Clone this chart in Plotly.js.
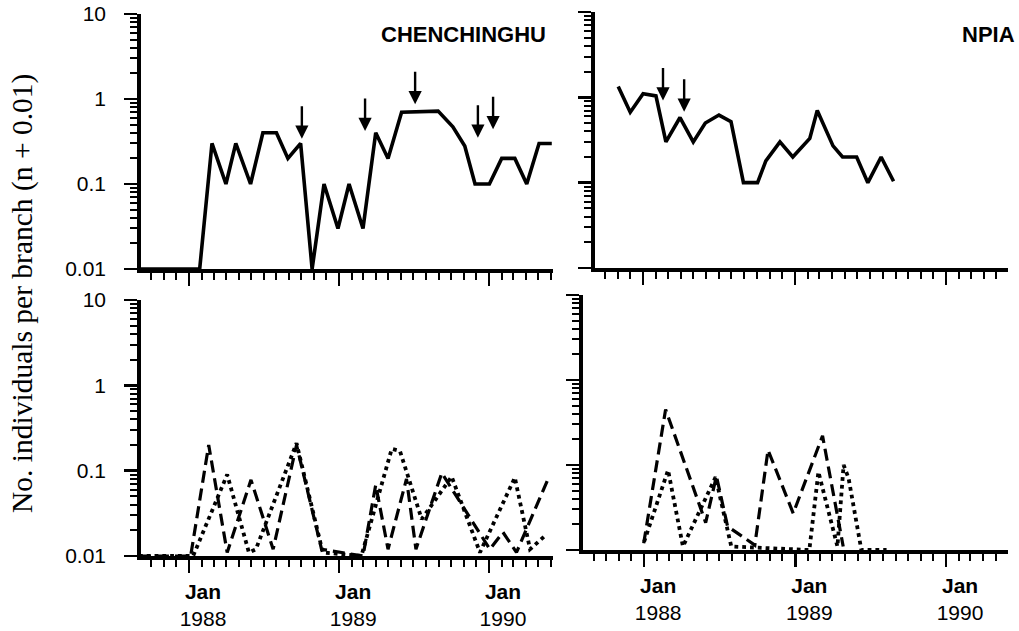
<!DOCTYPE html>
<html>
<head>
<meta charset="utf-8">
<script src="https://cdn.plot.ly/plotly-3.0.1.min.js"></script>
<style>
  html, body { margin: 0; padding: 0; background: #fff; }
  #chart { width: 1019px; height: 631px; }
</style>
</head>
<body>
<div id="chart"></div>
<script>
// ---------- DATA ----------
const panelNames = ['CHENCHINGHU', 'NPIA'];
const yTitle = 'No. individuals per branch (n + 0.01)';

const yearTickDates = ['1988-01-01', '1989-01-01', '1990-01-01'];
const yearTickYears = ['1988', '1989', '1990'];
const yTickVals = [0.01, 0.1, 1, 10];
const yTickText = ['0.01', '0.1', '1', '10'];

// Top-left (CHENCHINGHU, solid)
const tlDates = ['1987-09-01', '1988-01-27', '1988-02-26', '1988-03-31', '1988-04-24', '1988-05-30',
  '1988-06-29', '1988-08-01', '1988-08-29', '1988-09-29', '1988-10-27', '1988-11-25', '1988-12-29',
  '1989-01-25', '1989-02-28', '1989-03-31', '1989-04-30', '1989-06-02', '1989-08-30', '1989-10-05',
  '1989-11-03', '1989-11-28', '1990-01-02', '1990-02-01', '1990-03-05', '1990-04-03', '1990-05-03',
  '1990-06-03'];
const tlVals = [0.01, 0.01, 0.3, 0.1, 0.3, 0.1,
  0.4, 0.4, 0.2, 0.3, 0.01, 0.1, 0.03,
  0.1, 0.03, 0.4, 0.2, 0.7, 0.72, 0.47,
  0.28, 0.1, 0.1, 0.2, 0.2, 0.1, 0.3,
  0.3];
const tlArrowDates = ['1988-10-02', '1989-03-05', '1989-07-05', '1989-12-05', '1990-01-11'];
const tlArrowTips = [0.34, 0.42, 0.87, 0.35, 0.44];

// Top-right (NPIA, solid)
const trDates = ['1987-11-02', '1987-12-01', '1988-01-01', '1988-02-01', '1988-02-25', '1988-03-30',
  '1988-05-01', '1988-05-30', '1988-07-02', '1988-07-31', '1988-08-30', '1988-10-03', '1988-10-23',
  '1988-11-26', '1988-12-27', '1989-02-06', '1989-02-24', '1989-04-03', '1989-04-26', '1989-05-30',
  '1989-06-26', '1989-07-28', '1989-08-27'];
const trVals = [1.34, 0.67, 1.1, 1.04, 0.3, 0.58,
  0.3, 0.5, 0.62, 0.52, 0.1, 0.1, 0.18,
  0.3, 0.2, 0.33, 0.7, 0.27, 0.2, 0.2,
  0.1, 0.2, 0.104];
const trArrowDates = ['1988-02-18', '1988-04-09'];
const trArrowTips = [0.92, 0.68];

// Bottom-left (CHENCHINGHU): dashed and dotted
const blDashDates = ['1987-09-01', '1988-01-05', '1988-02-18', '1988-04-03', '1988-05-31', '1988-07-24',
  '1988-09-19', '1988-11-19', '1989-02-28', '1989-03-31', '1989-04-30', '1989-06-14', '1989-07-07',
  '1989-09-08', '1990-01-03', '1990-02-04', '1990-03-09', '1990-05-25'];
const blDashVals = [0.01, 0.01, 0.2, 0.011, 0.078, 0.012,
  0.2, 0.012, 0.01, 0.068, 0.012, 0.08, 0.012,
  0.094, 0.012, 0.019, 0.011, 0.08];
const blDotDates = ['1987-09-01', '1988-01-11', '1988-04-03', '1988-05-26', '1988-06-12', '1988-09-19',
  '1988-11-22', '1989-02-24', '1989-05-09', '1989-05-29', '1989-07-21', '1989-10-02', '1989-12-10',
  '1990-03-05', '1990-04-11', '1990-05-22'];
const blDotVals = [0.01, 0.01, 0.09, 0.011, 0.012, 0.21,
  0.011, 0.01, 0.18, 0.17, 0.027, 0.085, 0.011,
  0.083, 0.012, 0.018];

// Bottom-right (NPIA): dashed and dotted
const brDashDates = ['1987-12-31', '1988-02-22', '1988-05-29', '1988-06-24', '1988-07-21', '1988-09-25',
  '1988-10-27', '1988-12-27', '1989-03-08', '1989-04-27'];
const brDashVals = [0.012, 0.45, 0.021, 0.074, 0.019, 0.0114,
  0.15, 0.027, 0.22, 0.011];
const brDotDates = ['1988-01-01', '1988-02-28', '1988-04-04', '1988-06-22', '1988-07-30', '1989-02-04',
  '1989-02-26', '1989-04-13', '1989-04-28', '1989-05-10', '1989-06-10', '1989-08-10'];
const brDotVals = [0.0125, 0.087, 0.011, 0.072, 0.011, 0.01,
  0.083, 0.011, 0.1, 0.07, 0.01, 0.01];

// ---------- STYLE / LAYOUT ----------
const W = 1019, H = 631;
const BLACK = '#000000';
const sans = 'Liberation Sans, Arial, sans-serif';
const serif = 'Liberation Serif, Times New Roman, serif';

const solidLine = {color: BLACK, width: 3.6};
const dashLine = {color: BLACK, width: 3.2, dash: '12px,6px'};
const dotLine = {color: BLACK, width: 3.8, dash: '3.8px,4px'};

function tr(x, y, line, xa, ya) {
  return {x: x, y: y, type: 'scatter', mode: 'lines', line: line,
    xaxis: xa, yaxis: ya, hoverinfo: 'skip', showlegend: false};
}

const data = [
  tr(tlDates, tlVals, solidLine, 'x', 'y'),
  tr(trDates, trVals, solidLine, 'x2', 'y2'),
  tr(blDashDates, blDashVals, dashLine, 'x3', 'y3'),
  tr(blDotDates, blDotVals, dotLine, 'x3', 'y3'),
  tr(brDashDates, brDashVals, dashLine, 'x4', 'y4'),
  tr(brDotDates, brDotVals, dotLine, 'x4', 'y4')
];

// minor log ticks (2..9 in each decade)
const minorLog = [];
for (let e = -2; e < 1; e++) {
  for (let d = 2; d <= 9; d++) minorLog.push(d * Math.pow(10, e));
}

const tickText = yearTickYears.map(y => '<b>Jan</b><br>' + y);

function px2x(a, b) { return [a / W, b / W]; }
function px2y(top, bottom) { return [1 - bottom / H, 1 - top / H]; }

function xAxis(dom, range, anchor, labels) {
  return {
    domain: dom, range: range, type: 'date', anchor: anchor,
    tickmode: 'array', tickvals: yearTickDates, ticktext: tickText,
    showticklabels: labels,
    ticks: 'outside', ticklen: 13, tickwidth: 2.5, tickcolor: BLACK,
    ticklabelstandoff: 1, ticklabelshift: 14,
    tickfont: {family: sans, size: 21, color: BLACK},
    minor: {dtick: 'M1', tick0: '1988-01-01', ticks: 'outside', ticklen: 7, tickwidth: 2, tickcolor: BLACK, showgrid: false},
    showline: true, linecolor: BLACK, linewidth: 3.8,
    showgrid: false, zeroline: false, fixedrange: true, layer: 'above traces'
  };
}

function yAxis(dom, anchor, labels) {
  return {
    domain: dom, type: 'log', range: [-2, 1], anchor: anchor,
    tickmode: 'array', tickvals: yTickVals, ticktext: yTickText,
    showticklabels: labels,
    ticks: 'outside', ticklen: 13, tickwidth: 2.5, tickcolor: BLACK,
    ticklabelstandoff: 14,
    tickfont: {family: sans, size: 21, color: BLACK},
    minor: {tickmode: 'array', tickvals: minorLog, ticks: 'outside', ticklen: 7, tickwidth: 2, tickcolor: BLACK, showgrid: false},
    showline: true, linecolor: BLACK, linewidth: 3.8,
    showgrid: false, zeroline: false, fixedrange: true, layer: 'above traces'
  };
}

const annotations = [];
function arrows(dates, tips, xa, ya) {
  dates.forEach((d, i) => {
    annotations.push({
      x: d, y: Math.log10(tips[i]), xref: xa, yref: ya,
      text: '', showarrow: true, ax: 0, ay: -34,
      arrowhead: 2, arrowsize: 1.1, arrowwidth: 2.4, arrowcolor: BLACK, standoff: 0
    });
  });
}
arrows(tlArrowDates, tlArrowTips, 'x', 'y');
arrows(trArrowDates, trArrowTips, 'x2', 'y2');

annotations.push({
  text: '<b>' + panelNames[0] + '</b>', xref: 'paper', yref: 'paper',
  x: 548 / W, y: 1 - 34 / H, xanchor: 'right', yanchor: 'middle', showarrow: false,
  font: {family: sans, size: 22, color: BLACK}
});
annotations.push({
  text: '<b>' + panelNames[1] + '</b>', xref: 'paper', yref: 'paper',
  x: 1017 / W, y: 1 - 34 / H, xanchor: 'right', yanchor: 'middle', showarrow: false,
  font: {family: sans, size: 22, color: BLACK}
});
annotations.push({
  text: yTitle, xref: 'paper', yref: 'paper',
  x: 22 / W, y: 1 - 294 / H, xanchor: 'center', yanchor: 'middle', textangle: -90,
  showarrow: false, font: {family: serif, size: 29.5, color: BLACK}
});

const layout = {
  width: W, height: H,
  margin: {l: 0, r: 0, t: 0, b: 0},
  paper_bgcolor: '#ffffff', plot_bgcolor: '#ffffff',
  showlegend: false,
  xaxis: xAxis(px2x(141, 553), ['1987-09-06', '1990-06-06'], 'y', false),
  yaxis: yAxis(px2y(14, 269), 'x', true),
  xaxis2: xAxis(px2x(595, 1008), ['1987-09-07', '1990-05-30'], 'y2', false),
  yaxis2: yAxis(px2y(12, 268), 'x2', false),
  xaxis3: xAxis(px2x(141, 553), ['1987-09-06', '1990-06-06'], 'y3', true),
  yaxis3: yAxis(px2y(300, 556), 'x3', true),
  xaxis4: xAxis(px2x(583, 1008), ['1987-08-06', '1990-05-31'], 'y4', true),
  yaxis4: yAxis(px2y(295, 550), 'x4', false),
  annotations: annotations
};

Plotly.newPlot('chart', data, layout, {staticPlot: true, displayModeBar: false});
</script>
</body>
</html>
